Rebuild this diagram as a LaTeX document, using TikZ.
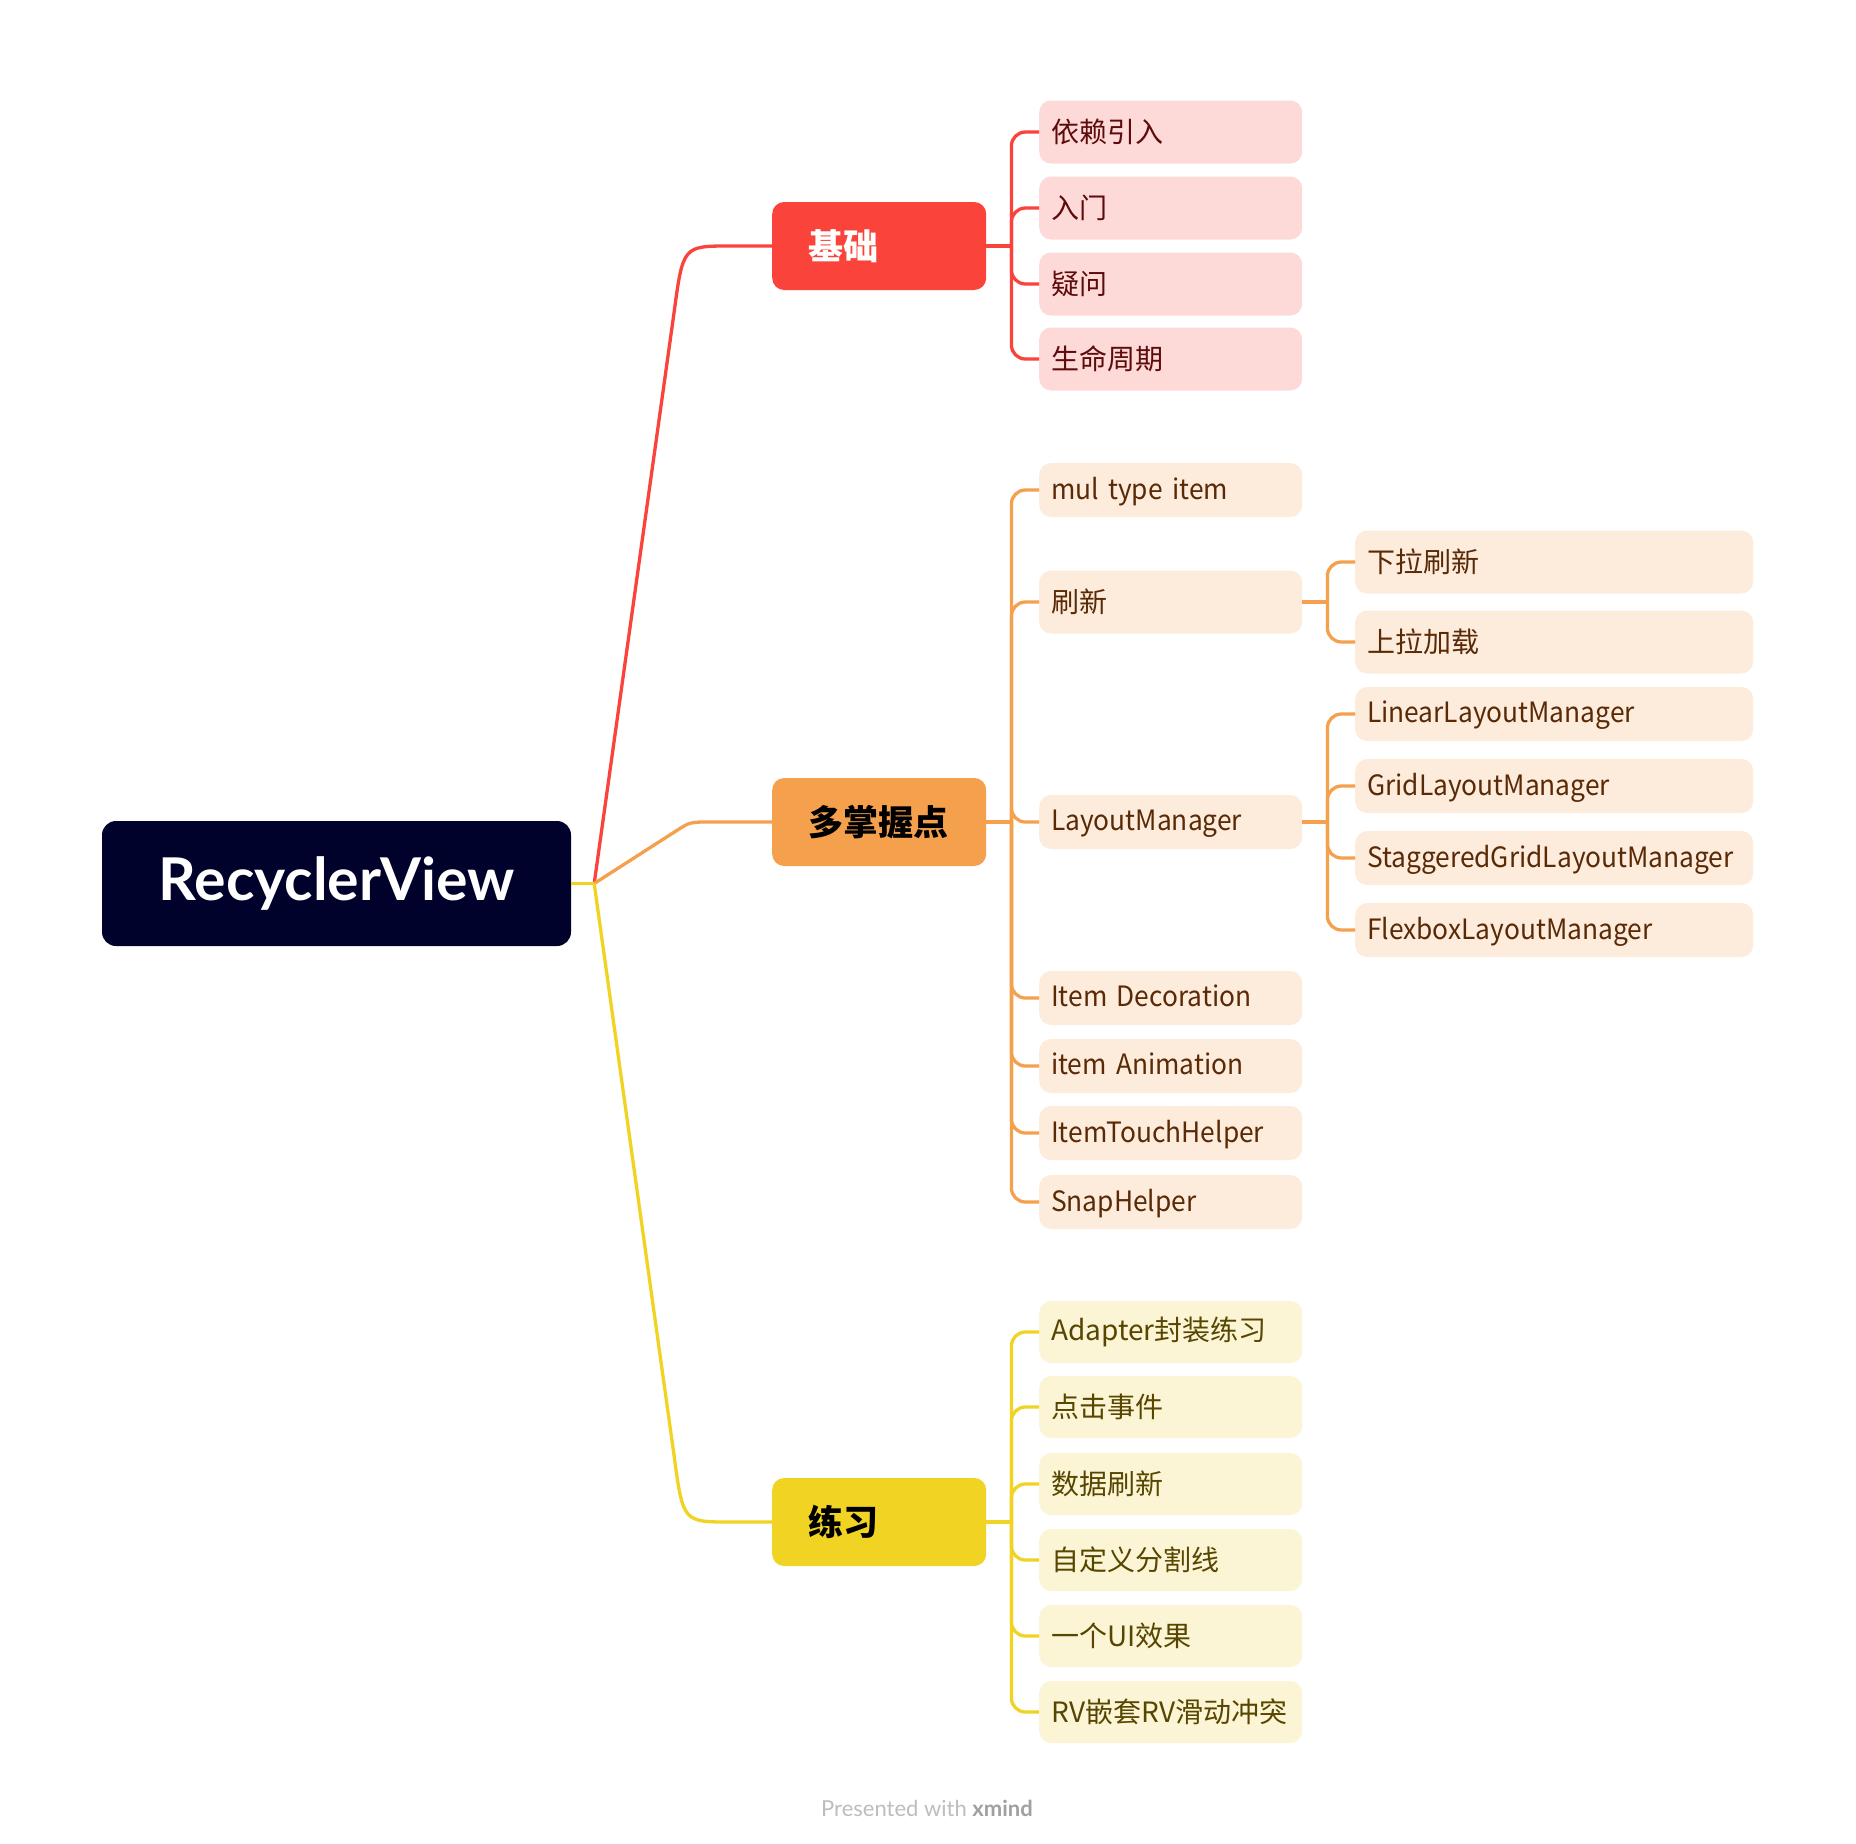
\documentclass[tikz,border=0pt]{standalone}
\usepackage{fontspec}
\setmainfont{Noto Sans CJK SC}
\newfontfamily\lat{Noto Sans CJK SC}[FakeStretch=0.94]
\newfontfamily\rootfont{Lato}
\usetikzlibrary{calc}
\definecolor{rootbg}{HTML}{00022B}
\definecolor{cred}{HTML}{F9433B}
\definecolor{credl}{HTML}{FDD9D8}
\definecolor{credt}{HTML}{5E0B0B}
\definecolor{corg}{HTML}{F5A04C}
\definecolor{corgl}{HTML}{FDEBDC}
\definecolor{corgt}{HTML}{5A2A06}
\definecolor{cyel}{HTML}{F0D323}
\definecolor{cyell}{HTML}{FCF5D5}
\definecolor{cyelt}{HTML}{574600}
\definecolor{footgray}{HTML}{BDBDBD}
\definecolor{footdark}{HTML}{A0A0A0}
\begin{document}
\begin{tikzpicture}[x=1pt,y=-1pt,
  leafbase/.style={rectangle, rounded corners=12pt, anchor=west, inner xsep=12pt, inner ysep=0pt,
    text width=239pt, align=left, font=\fontsize{28}{32}\selectfont, minimum height=63pt},
  leafwide/.style={leafbase, text width=374pt},
  latin/.style={minimum height=54pt, font=\lat\fontsize{28}{32}\selectfont, text depth=4pt},
  lred/.style={leafbase, fill=credl, text=credt},
  lorg/.style={leafbase, fill=corgl, text=corgt},
  lorgw/.style={leafwide, fill=corgl, text=corgt},
  lyel/.style={leafbase, fill=cyell, text=cyelt},
  branchbox/.style={rectangle, rounded corners=12pt, anchor=west, minimum width=214pt, minimum height=88pt,
    inner xsep=36pt, text width=142pt, align=left, font=\bfseries\fontsize{35}{40}\selectfont},
  rootbox/.style={rectangle, rounded corners=14pt, fill=rootbg, text=white, minimum width=469pt,
    minimum height=125pt, font=\rootfont\bfseries\fontsize{59}{66}\selectfont},
  conn/.style={line width=3.3pt, rounded corners=14pt},
  cr/.style={conn, draw=cred},
  co/.style={conn, draw=corg},
  cy/.style={conn, draw=cyel}
]
\useasboundingbox (0,0) rectangle (1856,1844);
\fill[white] (0,0) rectangle (1856,1844);

% root and branches
\node[rootbox] (root) at (336.5,883.5) {RecyclerView};
\node[branchbox, fill=cred, text=white] (b1) at (772,246) {基础};
\node[branchbox, fill=corg, text=black] (b2) at (772,822) {多掌握点};
\node[branchbox, fill=cyel, text=black] (b3) at (772,1522) {练习};

% red leaves
\node[lred] (r1) at (1039,132) {依赖引入};
\node[lred] (r2) at (1039,208) {入门};
\node[lred] (r3) at (1039,284) {疑问};
\node[lred] (r4) at (1039,359) {生命周期};

% orange leaves
\node[lorg, latin] (o1) at (1039,490) {mul type item};
\node[lorg] (o2) at (1039,602) {刷新};
\node[lorg, latin] (o3) at (1039,822) {LayoutManager};
\node[lorg, latin] (o4) at (1039,998) {Item Decoration};
\node[lorg, latin] (o5) at (1039,1066) {item Animation};
\node[lorg, latin] (o6) at (1039,1133) {ItemTouchHelper};
\node[lorg, latin] (o7) at (1039,1202) {SnapHelper};

% third level
\node[lorgw] (p1) at (1355,562) {下拉刷新};
\node[lorgw] (p2) at (1355,642) {上拉加载};
\node[lorgw, latin] (q1) at (1355,714) {LinearLayoutManager};
\node[lorgw, latin] (q2) at (1355,786) {GridLayoutManager};
\node[lorgw, latin] (q3) at (1355,858) {StaggeredGridLayoutManager};
\node[lorgw, latin] (q4) at (1355,930) {FlexboxLayoutManager};

% yellow leaves
\node[lyel, minimum height=62pt] (y1) at (1039,1332) {Adapter封装练习};
\node[lyel, minimum height=62pt] (y2) at (1039,1407) {点击事件};
\node[lyel, minimum height=62pt] (y3) at (1039,1484) {数据刷新};
\node[lyel, minimum height=62pt] (y4) at (1039,1560) {自定义分割线};
\node[lyel, minimum height=62pt] (y5) at (1039,1636) {一个UI效果};
\node[lyel, minimum height=62pt] (y6) at (1039,1712) {RV嵌套RV滑动冲突};

% root connectors
\coordinate (rj) at ($(root.east)+(23,0)$);
\draw[line width=3.3pt, draw=cred] (rj) -- ($(b1.west)+(-98,67)$) .. controls ($(b1.west)+(-89,0)$) .. ($(b1.west)+(-42,0)$) -- (b1.west);
\draw[line width=3.3pt, draw=corg] (rj) -- ($(b2.west)+(-96,9)$) .. controls ($(b2.west)+(-82,0)$) .. ($(b2.west)+(-62,0)$) -- (b2.west);
\draw[line width=3.3pt, draw=cyel] (rj) -- ($(b3.west)+(-98,-67)$) .. controls ($(b3.west)+(-89,0)$) .. ($(b3.west)+(-42,0)$) -- (b3.west);
\draw[line width=3.3pt, draw=cyel] (root.east) -- (rj);

% red tree
\coordinate (t1) at ($(b1.east)+(25,0)$);
\draw[cr] (b1.east) -- (t1);
\foreach \c in {r1,r2,r3,r4} \draw[cr] (t1) |- (\c.west);

% orange tree
\coordinate (t2) at ($(b2.east)+(25,0)$);
\draw[co] (b2.east) -- (t2);
\foreach \c in {o1,o2,o3,o4,o5,o6,o7} \draw[co] (t2) |- (\c.west);
\coordinate (t3) at ($(o2.east)+(25,0)$);
\draw[co] (o2.east) -- (t3);
\foreach \c in {p1,p2} \draw[co] (t3) |- (\c.west);
\coordinate (t4) at ($(o3.east)+(25,0)$);
\draw[co] (o3.east) -- (t4);
\foreach \c in {q1,q2,q3,q4} \draw[co] (t4) |- (\c.west);

% yellow tree
\coordinate (t5) at ($(b3.east)+(25,0)$);
\draw[cy] (b3.east) -- (t5);
\foreach \c in {y1,y2,y3,y4,y5,y6} \draw[cy] (t5) |- (\c.west);

% footer
\node[font=\rootfont\fontsize{22}{25}\selectfont, text=footgray] (ft) at (927,1808) {Presented with \textcolor{footdark}{\bfseries xmind}};
\end{tikzpicture}
\end{document}
